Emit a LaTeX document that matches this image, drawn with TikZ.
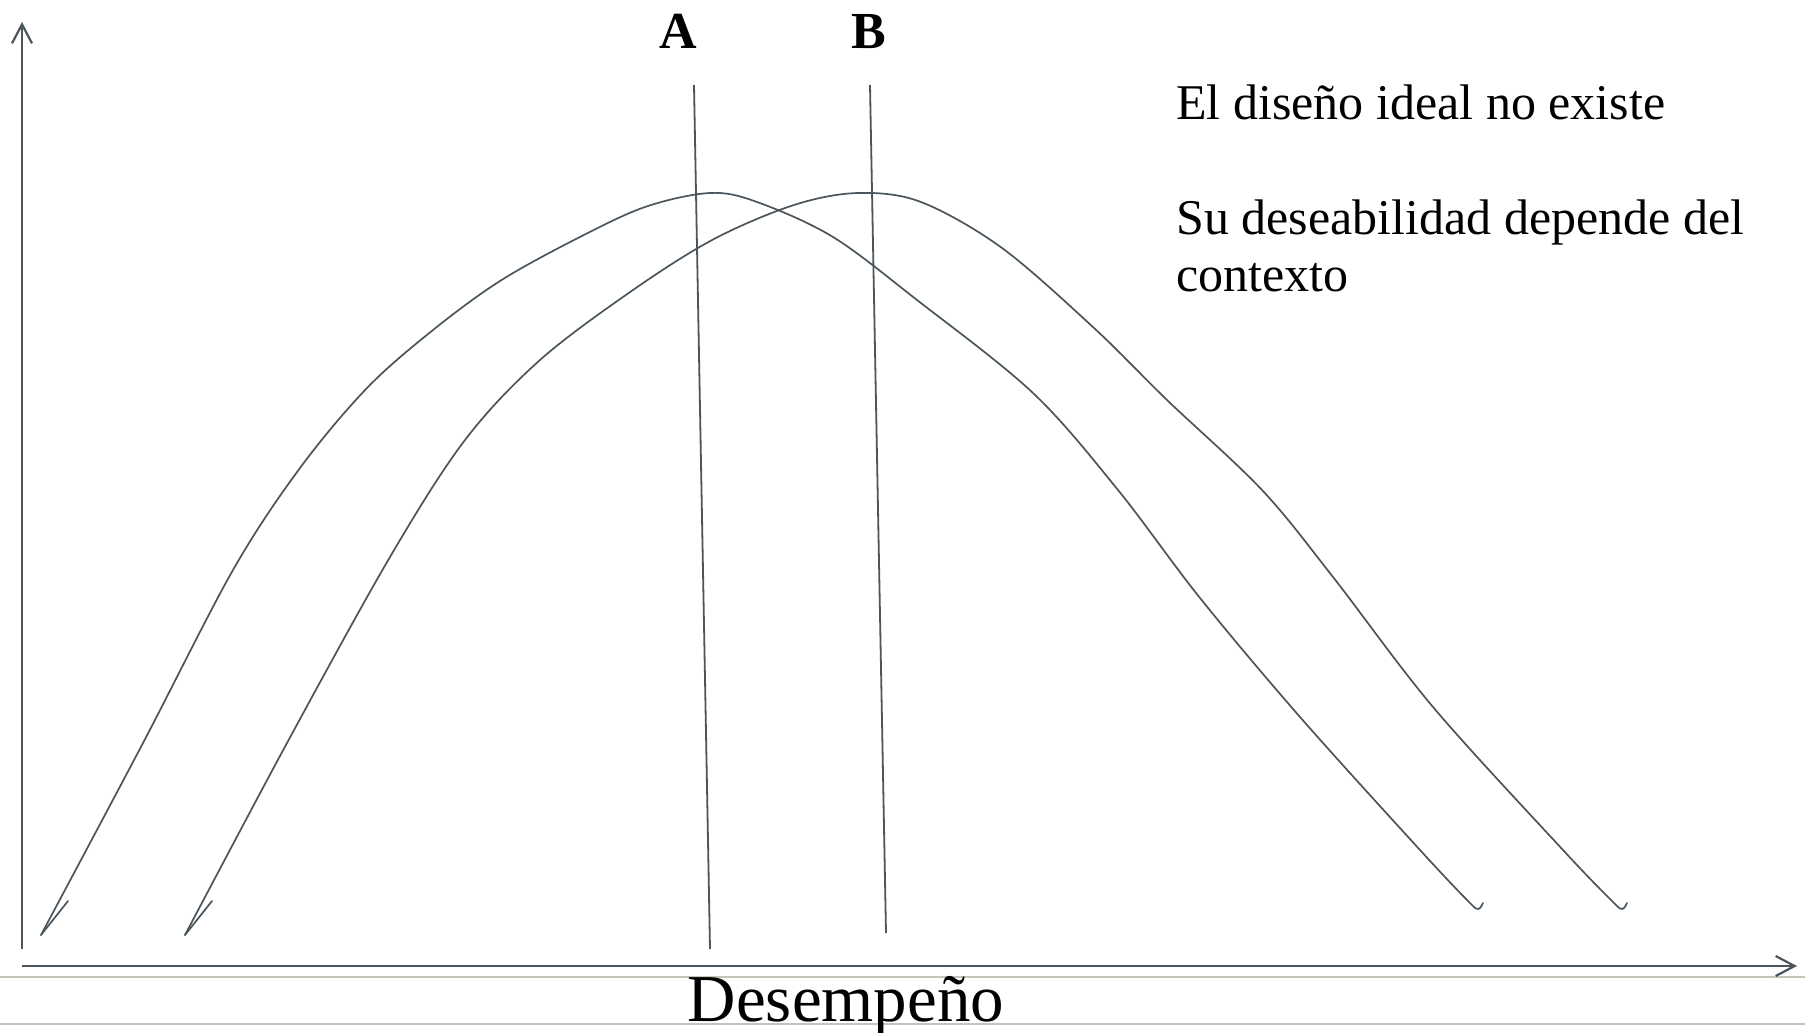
\documentclass[tikz,border=0pt]{standalone}
\usepackage{fontspec}
\setmainfont{Liberation Serif}
\usetikzlibrary{arrows.meta}
\definecolor{ink}{RGB}{74,85,92}
\definecolor{rulegray}{RGB}{196,196,184}
\begin{document}
\begin{tikzpicture}[x=0.5pt,y=-0.5pt,
  axis/.style={draw=ink,line width=1.1pt,-{Straight Barb[length=9.5pt,width=10pt]}},
  curve/.style={draw=ink,line width=0.85pt,line join=round,line cap=round},
  marker/.style={draw=ink,line width=0.9pt},
  sepline/.style={draw=rulegray,line width=1pt},
  note/.style={anchor=base west,inner sep=0pt,font=\fontsize{25pt}{29pt}\selectfont},
  letter/.style={anchor=base,inner sep=0pt,font=\fontsize{26pt}{30pt}\selectfont\bfseries},
  xlabel/.style={anchor=base,inner sep=0pt,font=\fontsize{33.5pt}{38pt}\selectfont}]
\useasboundingbox (0,0) rectangle (1805,1033);
\fill[white] (0,0) rectangle (1805,1033);

% separator rules
\coordinate (r1l) at (0,977);  \coordinate (r1r) at (1805,977);
\coordinate (r2l) at (0,1024); \coordinate (r2r) at (1805,1024);
\draw[sepline] (r1l) -- (r1r);
\draw[sepline] (r2l) -- (r2r);

% axes
\coordinate (yb) at (22,949);  \coordinate (yt) at (22,22);
\coordinate (xl) at (22,966);  \coordinate (xr) at (1797,966);
\draw[axis] (yb) -- (yt);
\draw[axis] (xl) -- (xr);

% curve 1
\coordinate (h1a) at (68,901); \coordinate (h1b) at (41,935);
\draw[curve] (h1a) -- (h1b);
\draw[curve] plot[smooth,tension=0.55] coordinates {
 (41,935) (143,743) (233,570) (300,468) (367,388) (433,330)
 (500,281) (576,239) (645,207) (710,193) (757,202) (833,237) (917,300)
 (1033,393) (1118,490) (1200,598) (1300,717) (1420,850) (1468,901)
 (1478,909) (1483,903)};

% curve 2
\coordinate (h2a) at (212,901); \coordinate (h2b) at (185,935);
\draw[curve] (h2a) -- (h2b);
\draw[curve] plot[smooth,tension=0.55] coordinates {
 (185,935) (287,743) (390,557) (465,440) (540,360) (633,290)
 (714,239) (794,205) (858,193) (921,202) (1002,248) (1094,328) (1167,400)
 (1262,490) (1333,577) (1433,707) (1563,850) (1612,901) (1622,909)
 (1627,903)};

% vertical markers
\coordinate (at) at (694,85);  \coordinate (ab) at (710,949);
\coordinate (bt) at (870,85);  \coordinate (bb) at (886,933);
\draw[marker] (at) -- (ab);
\draw[marker] (bt) -- (bb);

% labels
\node[letter] (la) at (678,48) {A};
\node[letter] (lb) at (869,48) {B};
\node[note] (n1) at (1176,119) {El diseño ideal no existe};
\node[note] (n2) at (1176,234) {Su deseabilidad depende del};
\node[note] (n3) at (1176,291) {contexto};
\node[xlabel] (xlab) at (846,1021) {Desempeño};
\end{tikzpicture}
\end{document}
